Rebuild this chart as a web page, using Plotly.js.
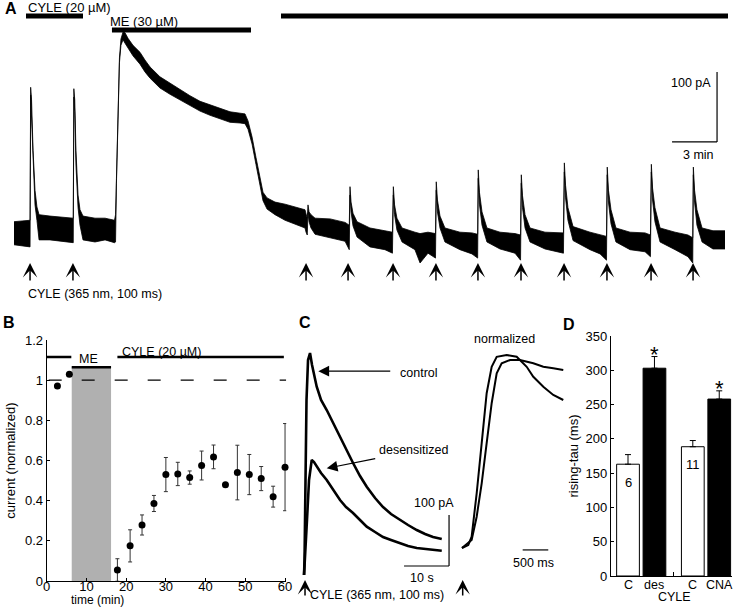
<!DOCTYPE html>
<html>
<head>
<meta charset="utf-8">
<script src="https://cdn.plot.ly/plotly-3.0.1.min.js"></script>
<style>html,body{margin:0;padding:0;background:#fff;}#chart{width:733px;height:607px;}</style>
</head>
<body>
<div id="chart"></div>
<script>
// ---------- Panel A: whole-cell trace (time in min, current in pA; noise band upper/lower) ----------
const aTime = [0, 1.07, 1.11, 1.17, 1.27, 1.4, 1.53, 1.67, 2.4, 3.07, 3.92,
  3.95, 3.99, 4.05, 4.13, 4.27, 4.4, 4.6, 5.4, 6.07, 6.7,
  6.77, 6.83, 6.9, 6.97, 7.03, 7.13, 7.27, 7.4, 7.6, 7.93, 8.4, 8.73, 9.07, 9.73, 10.4, 11.07, 11.73, 12.4, 13.07, 13.73, 14.4, 15.07, 15.4, 15.6, 15.87, 16.13, 16.4, 16.6, 16.87, 17.4, 18.07, 18.73, 19.4,
  19.47, 19.55, 19.6, 19.67, 19.8, 20.07, 21.07, 22.07, 22.35, 22.4, 22.47, 22.6, 22.87, 23.73, 24.73, 25.23, 25.29, 25.37, 25.53, 25.87, 26.73, 27.07, 27.6, 28.1, 28.15, 28.23, 28.4, 28.73, 29.73, 30.53, 30.91, 30.95, 31.03, 31.2, 31.53, 32.4, 33.4, 33.77, 33.82, 33.9, 34.07, 34.4, 35.4, 36.63, 36.69, 36.77, 36.93, 37.27, 38.4, 39.07, 39.5, 39.55, 39.63, 39.8, 40.13, 41.07, 42.07, 42.43, 42.49, 42.57, 42.73, 43.07, 44.07, 44.93, 45.25, 45.29, 45.37, 45.53, 45.87, 46.6, 47.4];
const aUpper = [19, 21, 211, 193, 121, 64, 40, 29, 27, 26, 24,
  24, 209, 193, 121, 57, 36, 27, 24, 24, 21,
  29, 81, 153, 210, 253, 280, 290, 289, 281, 271, 261, 250, 240, 226, 217, 207, 199, 191, 186, 180, 176, 174, 173, 163, 140, 111, 80, 61, 53, 47, 44, 40, 36,
  30, 24, 43, 33, 29, 24, 23, 18, 14, 69, 47, 31, 19, 10, 6, 4, 69, 43, 24, 10, 4, 2, 4, 2, 76, 50, 27, 10, 4, 3, 1, 93, 61, 33, 10, 4, 2, 0, 86, 56, 29, 10, 4, 3, 103, 71, 39, 12, 4, 1, -2, 97, 64, 36, 10, 4, 3, 0, 101, 67, 39, 10, 4, 0, -4, 97, 64, 36, 10, 6, 6];
const aLower = [-14, -17, 200, 171, 100, 43, 21, -7, -7, -9, -11,
  -11, 197, 176, 100, 39, 14, -7, -10, -7, -11,
  -10, 74, 146, 203, 246, 271, 279, 274, 267, 256, 244, 233, 224, 210, 201, 193, 184, 177, 171, 166, 161, 160, 159, 151, 130, 101, 70, 49, 37, 29, 21, 16, 10,
  4, 0, 31, 19, 10, 1, -4, -9, -21, 57, 33, 13, -3, -17, -21, -26, 57, 29, 7, -10, -21, -40, -26, -33, 64, 33, 10, -10, -21, -27, -33, 81, 44, 14, -10, -20, -26, -36, 74, 39, 10, -10, -20, -26, 90, 53, 21, -8, -21, -27, -36, 86, 47, 16, -10, -21, -24, -31, 90, 50, 19, -10, -21, -31, -40, 86, 47, 14, -10, -20, -20];
const aStimTimes = [1.07, 3.93, 19.47, 22.27, 25.27, 28.13, 30.93, 33.8, 36.67, 39.53, 42.47, 45.27];
const aDrugLabels = ['CYLE (20 µM)', 'ME (30 µM)', ''];
const aDrugStart = [0.8, 6.53, 17.8];
const aDrugEnd = [4.6, 15.8, 47.6];
const aDrugLevel = [313, 293, 313];

// ---------- Panel B: normalized current vs time ----------
const bTime = [2.7, 5.7, 17.8, 21, 24, 27, 30, 33, 36, 39, 42, 45, 48, 51, 54, 57, 60];
const bMean = [0.971, 1.029, 0.055, 0.175, 0.279, 0.386, 0.530, 0.533, 0.515, 0.575, 0.618, 0.479, 0.540, 0.530, 0.510, 0.420, 0.567];
const bErr  = [0, 0, 0.056, 0.08, 0.05, 0.04, 0.085, 0.058, 0.033, 0.072, 0.059, 0, 0.136, 0.10, 0.06, 0.052, 0.217];
const bMEWindow = [6.3, 16.2];
const bMELevel = 1.064;
const bCYLEBarLeft = [0, 6.2];
const bCYLEBarRight = [17.8, 59.7];
const bCYLELevel = 1.115;

// ---------- Panel C: example currents (s, pA) and normalized rise (ms) ----------
const cTime = [-0.22, -0.11, 0.33, 0.67, 1.11, 1.56, 2.6, 3.56, 4.82, 6.22, 7.78, 9.11, 10.67, 12.22, 13.71, 15.56, 17.33, 19.11, 21.11, 22.89, 24.82, 26.67, 28.44, 30.38];
const cControl = [-17.6, 11.8, 325.5, 403.9, 417.6, 394.1, 351.6, 325.5, 305.9, 280.4, 253.5, 227.5, 202, 176.5, 155.5, 133.3, 115.7, 102, 90.2, 80.4, 70.6, 62.7, 56.9, 52.9];
const cDesTime = [-0.22, 0, 0.44, 0.89, 1.49, 2, 2.6, 3.56, 4.82, 6.22, 7.78, 9.11, 10.67, 12.22, 13.71, 15.56, 17.33, 19.11, 21.11, 22.89, 24.82, 26.67, 28.44, 30.38];
const cDesensitized = [-17.6, 11.8, 90.2, 168.6, 207.8, 203.9, 194.7, 182.4, 168.6, 149, 129.4, 115.7, 103.9, 90.2, 77.1, 66.7, 56.9, 51, 45.1, 39.2, 35.3, 33.3, 31.4, 30];
const cNormTimeA = [0, 123, 189, 287, 385, 482, 580, 678, 873, 1068, 1264, 1393, 1588, 1783, 1978];
const cNormA = [0, 0.016, 0.059, 0.285, 0.546, 0.806, 0.944, 0.996, 1.005, 0.996, 0.944, 0.892, 0.840, 0.797, 0.771];
const cNormTimeB = [0, 189, 287, 385, 482, 580, 678, 775, 937, 1133, 1393, 1588, 1783, 1978];
const cNormB = [0, 0.042, 0.163, 0.337, 0.546, 0.754, 0.910, 0.962, 0.979, 0.979, 0.962, 0.944, 0.936, 0.927];

// ---------- Panel D: rising tau ----------
const dPos = [1, 2, 3.45, 4.45];
const dLabels = ['C', 'des', 'C', 'CNA'];
const dTau = [163, 303, 188.5, 258];
const dErr = [14, 17, 9, 12];
const dN = ['6', '', '11', ''];
const dSig = [false, true, false, true];
const dColors = ['white', 'black', 'white', 'black'];

const FONT = 'Liberation Sans, Arial, Helvetica, sans-serif';

const traces = [
  {x: aTime, y: aUpper, xaxis: 'x', yaxis: 'y', mode: 'lines', line: {color: 'black', width: 0.8}, hoverinfo: 'skip'},
  {x: aTime, y: aLower, xaxis: 'x', yaxis: 'y', mode: 'lines', fill: 'tonexty', fillcolor: 'black', line: {color: 'black', width: 0.8}, hoverinfo: 'skip'},
  // B
  {x: bMEWindow.concat([bMEWindow[1], bMEWindow[0]]), y: [0, 0, bMELevel, bMELevel], xaxis: 'x2', yaxis: 'y2', mode: 'lines', fill: 'toself', fillcolor: '#b0b0b0', line: {width: 0}, hoverinfo: 'skip'},
  {x: [0.5, 60.3], y: [1, 1], xaxis: 'x2', yaxis: 'y2', mode: 'lines', line: {color: 'black', width: 1.2, dash: '13px,20px'}, hoverinfo: 'skip'},
  {x: bCYLEBarLeft, y: [bCYLELevel, bCYLELevel], xaxis: 'x2', yaxis: 'y2', mode: 'lines', line: {color: 'black', width: 2.5}, hoverinfo: 'skip'},
  {x: bMEWindow, y: [bMELevel, bMELevel], xaxis: 'x2', yaxis: 'y2', mode: 'lines', line: {color: 'black', width: 2.5}, hoverinfo: 'skip'},
  {x: bCYLEBarRight, y: [bCYLELevel, bCYLELevel], xaxis: 'x2', yaxis: 'y2', mode: 'lines', line: {color: 'black', width: 2.5}, hoverinfo: 'skip'},
  {x: bTime, y: bMean, xaxis: 'x2', yaxis: 'y2', mode: 'markers', cliponaxis: false,
   marker: {color: 'black', size: 7},
   error_y: {type: 'data', array: bErr, visible: true, color: '#333', thickness: 1, width: 2}},
  // C
  {x: cTime, y: cControl, xaxis: 'x3', yaxis: 'y3', mode: 'lines', line: {color: 'black', width: 2.6}, hoverinfo: 'skip'},
  {x: cDesTime, y: cDesensitized, xaxis: 'x3', yaxis: 'y3', mode: 'lines', line: {color: 'black', width: 2.6}, hoverinfo: 'skip'},
  {x: cNormTimeA, y: cNormA, xaxis: 'x4', yaxis: 'y4', mode: 'lines', line: {color: 'black', width: 2}, hoverinfo: 'skip'},
  {x: cNormTimeB, y: cNormB, xaxis: 'x4', yaxis: 'y4', mode: 'lines', line: {color: 'black', width: 2}, hoverinfo: 'skip'},
  // D
  {type: 'bar', x: dPos, y: dTau, width: 0.86, xaxis: 'x5', yaxis: 'y5',
   marker: {color: dColors, line: {color: 'black', width: 1}},
   error_y: {type: 'data', symmetric: false, array: dErr, arrayminus: [0, 0, 0, 0], color: 'black', thickness: 1, width: 3}}
];

const shapes = [];
for (let i = 0; i < aDrugStart.length; i++) {
  shapes.push({type: 'line', xref: 'x', yref: 'y', x0: aDrugStart[i], x1: aDrugEnd[i], y0: aDrugLevel[i], y1: aDrugLevel[i], line: {color: 'black', width: 5}});
}
// A scale bar: 3 min, 100 pA
shapes.push({type: 'line', xref: 'x', yref: 'y', x0: 46.87, x1: 46.87, y0: 133, y1: 233, line: {color: 'black', width: 1.2}});
shapes.push({type: 'line', xref: 'x', yref: 'y', x0: 43.87, x1: 46.87, y0: 133, y1: 133, line: {color: 'black', width: 1.2}});
// C scale bars: 10 s, 100 pA; 500 ms
shapes.push({type: 'line', xref: 'x3', yref: 'y3', x0: 32, x1: 32, y0: 0, y1: 100, line: {color: 'black', width: 1.2}});
shapes.push({type: 'line', xref: 'x3', yref: 'y3', x0: 22, x1: 32, y0: 0, y1: 0, line: {color: 'black', width: 1.2}});
shapes.push({type: 'line', xref: 'x4', yref: 'y4', x0: 1185, x1: 1685, y0: -0.01, y1: -0.01, line: {color: 'black', width: 1.2}});

const txt = (o) => Object.assign({showarrow: false, xanchor: 'center', yanchor: 'middle', font: {family: FONT, size: 12.5, color: 'black'}}, o);
const big = {family: FONT, size: 16, color: 'black'};
const annotations = [
  txt({xref: 'paper', yref: 'paper', x: 0.0150, y: 0.9868, text: '<b>A</b>', font: big}),
  txt({xref: 'paper', yref: 'paper', x: 0.0123, y: 0.4679, text: '<b>B</b>', font: big}),
  txt({xref: 'paper', yref: 'paper', x: 0.4161, y: 0.4679, text: '<b>C</b>', font: big}),
  txt({xref: 'paper', yref: 'paper', x: 0.7763, y: 0.4646, text: '<b>D</b>', font: big}),
  // A texts
  txt({xref: 'x', yref: 'y', x: 0.8, y: 325.7, xanchor: 'left', text: aDrugLabels[0], font: {family: FONT, size: 13, color: 'black'}}),
  txt({xref: 'x', yref: 'y', x: 6.27, y: 304.3, xanchor: 'left', text: aDrugLabels[1], font: {family: FONT, size: 13, color: 'black'}}),
  txt({xref: 'x', yref: 'y', x: 0.8, y: -84.3, xanchor: 'left', text: 'CYLE (365 nm, 100 ms)'}),
  txt({xref: 'x', yref: 'y', x: 45.13, y: 217.1, text: '100 pA'}),
  txt({xref: 'x', yref: 'y', x: 45.6, y: 114.3, text: '3 min'}),
  // B texts
  txt({xref: 'x2', yref: 'y2', x: 10.5, y: 1.103, text: 'ME'}),
  txt({xref: 'x2', yref: 'y2', x: 28.95, y: 1.142, text: 'CYLE (20 µM)'}),
  txt({xref: 'x2', yref: 'paper', x: 12.9, y: 0.0115, text: 'time (min)', font: {family: FONT, size: 12, color: 'black'}}),
  // C texts
  txt({xref: 'x3', yref: 'y3', x: 25.3, y: 378, text: 'control'}),
  txt({xref: 'x3', yref: 'y3', x: 24.2, y: 227.5, text: 'desensitized'}),
  txt({xref: 'x3', yref: 'y3', x: 28.67, y: 123.5, text: '100 pA'}),
  txt({xref: 'x3', yref: 'y3', x: 26, y: -23.5, text: '10 s'}),
  txt({xref: 'x3', yref: 'y3', x: 0.67, y: -56.9, xanchor: 'left', text: 'CYLE (365 nm, 100 ms)'}),
  txt({xref: 'x4', yref: 'y4', x: 840, y: 1.089, text: 'normalized'}),
  txt({xref: 'x4', yref: 'y4', x: 1406, y: -0.078, text: '500 ms'}),
  // C arrows
  {xref: 'x3', yref: 'y3', axref: 'x3', ayref: 'y3', x: 2.96, y: 382, ax: 19.27, ay: 382, text: '', showarrow: true, arrowhead: 2, arrowsize: 1.8, arrowwidth: 1.2, arrowcolor: 'black'},
  {xref: 'x3', yref: 'y3', axref: 'x3', ayref: 'y3', x: 4.82, y: 191.6, ax: 15.93, ay: 211.2, text: '', showarrow: true, arrowhead: 2, arrowsize: 1.8, arrowwidth: 1.2, arrowcolor: 'black'},
  {xref: 'x3', yref: 'y3', x: 0, y: -27.5, ax: 0, ay: 17, text: '', showarrow: true, arrowhead: 3, arrowsize: 1.6, arrowwidth: 1.5, arrowcolor: 'black'},
  {xref: 'x4', yref: 'y4', x: 14, y: -0.167, ax: 0, ay: 17, text: '', showarrow: true, arrowhead: 3, arrowsize: 1.6, arrowwidth: 1.5, arrowcolor: 'black'},
  // D group label
  txt({xref: 'x5', yref: 'paper', x: 2.74, y: 0.0165, text: 'CYLE'})
];
aStimTimes.forEach(t => annotations.push({xref: 'x', yref: 'y', x: t, y: -40, ax: 0, ay: 19, text: '', showarrow: true, arrowhead: 3, arrowsize: 1.6, arrowwidth: 1.5, arrowcolor: 'black'}));
dPos.forEach((p, i) => {
  annotations.push(txt({xref: 'x5', yref: 'paper', x: p, y: 0.0362, text: dLabels[i]}));
  if (dN[i]) annotations.push(txt({xref: 'x5', yref: 'y5', x: p, y: dTau[i] - 26, text: dN[i], font: {family: FONT, size: 13, color: 'black'}}));
  if (dSig[i]) annotations.push(txt({xref: 'x5', yref: 'y5', x: p, y: dTau[i] + dErr[i] + 3, text: '*', font: {family: FONT, size: 22, color: 'black'}}));
});

const axBase = {showgrid: false, zeroline: false, showline: true, linecolor: 'black', linewidth: 1,
  ticks: 'inside', ticklen: 3, tickwidth: 1, tickcolor: 'black', tickfont: {family: FONT, size: 13, color: 'black'}};
const hidden = {visible: false, showgrid: false, zeroline: false, fixedrange: true};

const layout = {
  width: 733, height: 607,
  margin: {l: 0, r: 0, t: 0, b: 0},
  paper_bgcolor: 'white', plot_bgcolor: 'rgba(0,0,0,0)',
  showlegend: false,
  font: {family: FONT, size: 12.5, color: 'black'},
  xaxis: Object.assign({}, hidden, {domain: [0, 1], range: [-0.9333, 47.9333], anchor: 'y'}),
  yaxis: Object.assign({}, hidden, {domain: [0.5058, 1], range: [-92.86, 335.71], anchor: 'x'}),
  xaxis2: Object.assign({}, axBase, {domain: [0.0637, 0.3905], range: [0, 60.3], anchor: 'y2', tickvals: [0, 10, 20, 30, 40, 50, 60], ticklabelstandoff: -7}),
  yaxis2: Object.assign({}, axBase, {domain: [0.0428, 0.4399], range: [0, 1.2], anchor: 'x2', tick0: 0, dtick: 0.2,
    title: {text: 'current (normalized)', font: {family: FONT, size: 13, color: 'black'}, standoff: 6}}),
  xaxis3: Object.assign({}, hidden, {domain: [0.4093, 0.6276], range: [-1.111, 34.44], anchor: 'y3'}),
  yaxis3: Object.assign({}, hidden, {domain: [0.01153, 0.4563], range: [-66.67, 462.75], anchor: 'x3'}),
  xaxis4: Object.assign({}, hidden, {domain: [0.6207, 0.7776], range: [-136.7, 2109], anchor: 'y4'}),
  yaxis4: Object.assign({}, hidden, {domain: [0.01153, 0.4563], range: [-0.2708, 1.1354], anchor: 'x4'}),
  xaxis5: Object.assign({}, axBase, {domain: [0.8332, 0.9982], range: [0.347, 4.92], anchor: 'y5', tickvals: [2.71], ticktext: [''], ticklen: 4}),
  yaxis5: Object.assign({}, axBase, {domain: [0.0511, 0.4465], range: [0, 350], anchor: 'x5', tick0: 0, dtick: 50,
    title: {text: 'rising-tau (ms)', font: {family: FONT, size: 13, color: 'black'}, standoff: 3}}),
  shapes: shapes,
  annotations: annotations
};

Plotly.newPlot('chart', traces, layout, {staticPlot: true, displayModeBar: false});
</script>
</body>
</html>
